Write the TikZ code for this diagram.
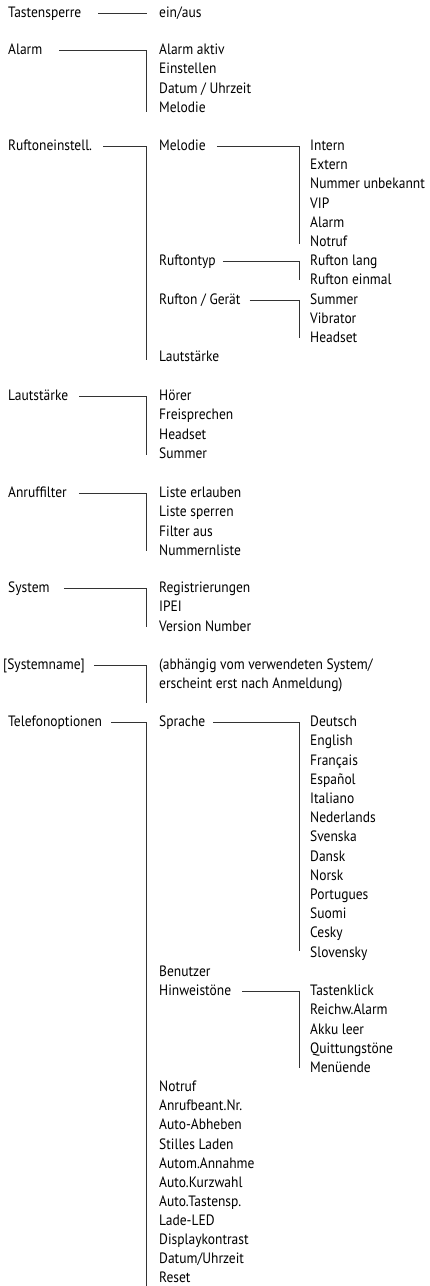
\documentclass[tikz,border=0pt]{standalone}
\usepackage{fontspec}
\setmainfont{PT Sans}[FakeStretch=0.9]
\begin{document}
\begin{tikzpicture}[x=1pt,y=-1pt,
  item/.style={anchor=west, inner sep=0pt, text height=9.5pt, text depth=0pt, font=\fontsize{15}{17}\selectfont},
  link/.style={line width=0.9pt, draw=black!80}]
\useasboundingbox (0,0) rectangle (429,1286);
\coordinate (v1) at (146,0);
\coordinate (v2) at (299,0);
% column 1
\node[item] (ts) at (8,13) {Tastensperre};
\node[item] (alarm) at (8,50) {Alarm};
\node[item] (ruf) at (8,146) {Ruftoneinstell.};
\node[item] (laut) at (8,396) {Lautstärke};
\node[item] (anruf) at (8,493) {Anruffilter};
\node[item] (sys) at (8,588) {System};
\node[item] (sysname) at (3,665) {[Systemname]};
\node[item] (tel) at (8,722) {Telefonoptionen};
% column 2
\node[item] (einaus) at (159,13) {ein/aus};
\foreach \t [count=\i] in {Alarm aktiv,Einstellen,Datum / Uhrzeit,Melodie}
  \node[item] (al\i) at (159,{50+19.2*(\i-1)}) {\t};
\node[item] (mel) at (159,146) {Melodie};
\node[item] (rtyp) at (159,261) {Ruftontyp};
\node[item] (rger) at (159,300) {Rufton / Gerät};
\node[item] (rlaut) at (159,357) {Lautstärke};
\foreach \t [count=\i] in {Hörer,Freisprechen,Headset,Summer}
  \node[item] (la\i) at (159,{396+19.2*(\i-1)}) {\t};
\foreach \t [count=\i] in {Liste erlauben,Liste sperren,Filter aus,Nummernliste}
  \node[item] (af\i) at (159,{493+19.2*(\i-1)}) {\t};
\foreach \t [count=\i] in {Registrierungen,IPEI,Version Number}
  \node[item] (sy\i) at (159,{588+19.2*(\i-1)}) {\t};
\node[item] (sn1) at (159,665) {(abhängig vom verwendeten System/};
\node[item] (sn2) at (159,684) {erscheint erst nach Anmeldung)};
\coordinate (snend) at (146,703);
\node[item] (spr) at (159,722) {Sprache};
\node[item] (ben) at (159,972) {Benutzer};
\node[item] (hin) at (159,991) {Hinweistöne};
\foreach \t [count=\i] in {Notruf,Anrufbeant.Nr.,Auto-Abheben,Stilles Laden,Autom.Annahme,Auto.Kurzwahl,Auto.Tastensp.,Lade-LED,Displaykontrast,Datum/Uhrzeit,Reset}
  \node[item] (to\i) at (159,{1087+19.1*(\i-1)}) {\t};
\coordinate (telend) at (146,1286);
% column 3
\foreach \t [count=\i] in {Intern,Extern,Nummer unbekannt,VIP,Alarm,Notruf}
  \node[item] (me\i) at (310,{146+19.1*(\i-1)}) {\t};
\foreach \t [count=\i] in {Rufton lang,Rufton einmal}
  \node[item] (rt\i) at (310,{261+19.2*(\i-1)}) {\t};
\foreach \t [count=\i] in {Summer,Vibrator,Headset}
  \node[item] (rg\i) at (310,{300+18.7*(\i-1)}) {\t};
\foreach \t [count=\i] in {Deutsch,English,Français,Español,Italiano,Nederlands,Svenska,Dansk,Norsk,Portugues,Suomi,Cesky,Slovensky}
  \node[item] (sp\i) at (310,{722+19.2*(\i-1)}) {\t};
\foreach \t [count=\i] in {Tastenklick,Reichw.Alarm,Akku leer,Quittungstöne,Menüende}
  \node[item] (hw\i) at (310,{991+19.2*(\i-1)}) {\t};
% connectors
\draw[link] ([xshift=17pt]ts.east) -- ([xshift=-12pt]einaus.west);
\draw[link] ([xshift=17pt]alarm.east) -- (alarm.east -| v1) -- ([yshift=-4pt]al4.west -| v1);
\draw[link] ([xshift=11pt]ruf.east) -- (ruf.east -| v1) -- ([yshift=-3pt]rlaut.west -| v1);
\draw[link] ([xshift=11pt]laut.east) -- (laut.east -| v1) -- ([yshift=-1pt]la4.west -| v1);
\draw[link] ([xshift=12pt]anruf.east) -- (anruf.east -| v1) -- (af4.west -| v1);
\draw[link] ([xshift=14pt]sys.east) -- (sys.east -| v1) -- ([yshift=-1pt]sy3.west -| v1);
\draw[link] ([xshift=9pt]sysname.east) -- (sysname.east -| v1) -- (snend);
\draw[link] ([xshift=9pt]tel.east) -- (tel.east -| v1) -- (telend);
\draw[link] ([xshift=11pt]mel.east) -- (mel.east -| v2) -- ([yshift=-2pt]me6.west -| v2);
\draw[link] ([xshift=7pt]rtyp.east) -- (rtyp.east -| v2) -- ([yshift=0pt]rt2.west -| v2);
\draw[link] ([xshift=9pt]rger.east) -- (rger.east -| v2) -- ([yshift=-1pt]rg3.west -| v2);
\draw[link] ([xshift=8pt]spr.east) -- (spr.east -| v2) -- ([yshift=1pt]sp13.west -| v2);
\draw[link] ([xshift=11pt]hin.east) -- (hin.east -| v2) -- (hw5.west -| v2);
\end{tikzpicture}
\end{document}
